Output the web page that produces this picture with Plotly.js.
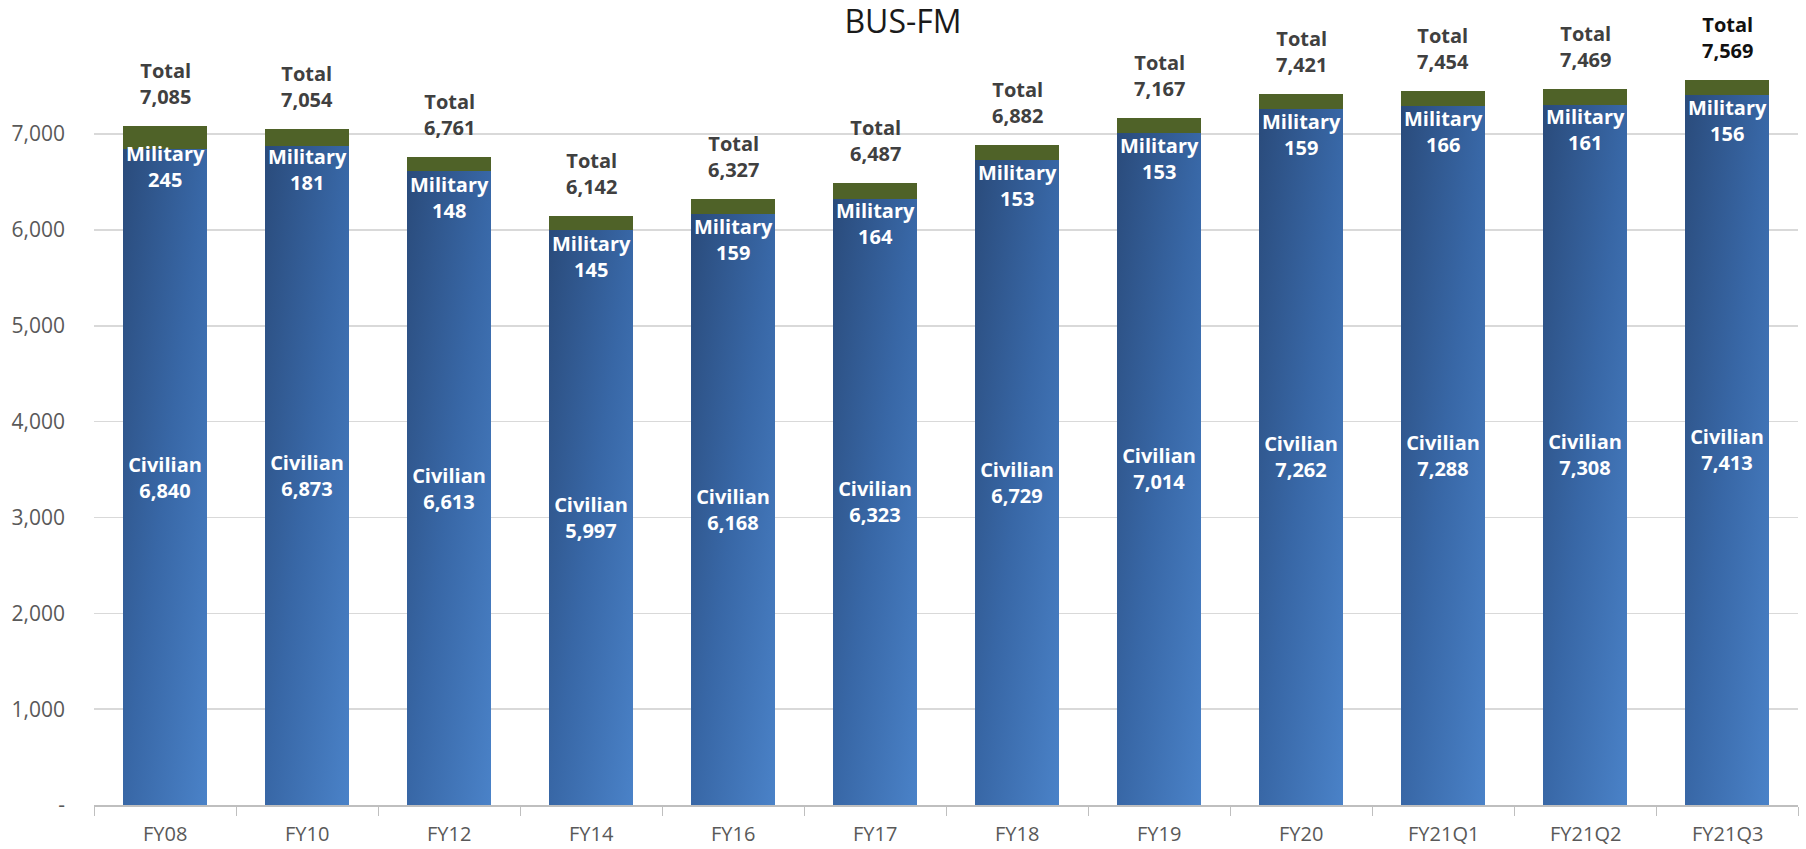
<!DOCTYPE html>
<html>
<head>
<meta charset="utf-8">
<script src="https://cdn.plot.ly/plotly-3.0.1.min.js"></script>
<style>
  html, body { margin: 0; padding: 0; background: #fff; }
</style>
</head>
<body>
<div id="chart" style="width:1806px;height:849px;"></div>
<script>
// headcount by fiscal year, civilian + military
const categories = ["FY08", "FY10", "FY12", "FY14", "FY16", "FY17", "FY18", "FY19", "FY20", "FY21Q1", "FY21Q2", "FY21Q3"];
const civilian = [6840, 6873, 6613, 5997, 6168, 6323, 6729, 7014, 7262, 7288, 7308, 7413];
const military = [245, 181, 148, 145, 159, 164, 153, 153, 159, 166, 161, 156];
const totals = [7085, 7054, 6761, 6142, 6327, 6487, 6882, 7167, 7421, 7454, 7469, 7569];

const yTickVals = [0, 1000, 2000, 3000, 4000, 5000, 6000, 7000];
const yTickText = ["-", "1,000", "2,000", "3,000", "4,000", "5,000", "6,000", "7,000"];

const fmt = v => v.toLocaleString("en-US");
const font = "'Open Sans', 'Liberation Sans', sans-serif";

const data = [
  {
    x: categories,
    y: civilian,
    type: "bar",
    name: "Civilian",
    marker: { color: "#3a68a6" },
    text: civilian.map(v => "Civilian<br>" + fmt(v)),
    textposition: "inside",
    insidetextanchor: "middle",
    constraintext: "none",
    textfont: { family: font, size: 20, color: "#ffffff", weight: "bold" },
    hoverinfo: "skip"
  },
  {
    x: categories,
    y: military,
    type: "bar",
    name: "Military",
    marker: { color: "#4f6228" },
    hoverinfo: "skip"
  }
];

// military labels sit just under the bar top, totals above it
const annotations = [];
categories.forEach((c, i) => {
  annotations.push({
    x: c, y: totals[i], xref: "x", yref: "y",
    text: "Military<br>" + fmt(military[i]),
    showarrow: false, yanchor: "top", yshift: -12,
    font: { family: font, size: 20, color: "#ffffff", weight: "bold" }
  });
  annotations.push({
    x: c, y: totals[i], xref: "x", yref: "y",
    text: "Total<br>" + fmt(totals[i]),
    showarrow: false, yanchor: "bottom", yshift: 14,
    font: { family: font, size: 20, color: i === categories.length - 1 ? "#111111" : "#404040", weight: "bold" }
  });
  // category label a bit further below the axis than plotly puts it
  annotations.push({
    x: c, y: 0, xref: "x", yref: "paper",
    text: c,
    showarrow: false, yanchor: "top", yshift: -14, borderpad: 0,
    font: { family: font, size: 20, color: "#595959" }
  });
});

const layout = {
  width: 1806,
  height: 849,
  barmode: "stack",
  bargap: 0.41,
  showlegend: false,
  paper_bgcolor: "#ffffff",
  plot_bgcolor: "#ffffff",
  margin: { l: 94, r: 8, t: 67, b: 44 },
  title: {
    text: "BUS-FM",
    font: { family: font, size: 32, color: "#1a1a1a" },
    x: 0.5, xref: "container",
    y: 0.974, yref: "container", yanchor: "middle"
  },
  xaxis: {
    type: "category",
    showgrid: false,
    showline: true,
    linecolor: "#bfbfbf",
    linewidth: 1.5,
    ticks: "outside",
    tickson: "boundaries",
    ticklen: 9,
    tickcolor: "#bfbfbf",
    showticklabels: false
  },
  yaxis: {
    range: [0, 7700],
    tickvals: yTickVals,
    ticktext: yTickText,
    showgrid: true,
    gridcolor: "#d9d9d9",
    gridwidth: 1.5,
    zeroline: false,
    showline: false,
    ticks: "",
    ticklabelstandoff: 28,
    tickfont: { family: font, size: 21, color: "#595959" }
  },
  annotations: annotations
};

Plotly.newPlot("chart", data, layout, { staticPlot: true }).then(gd => {
  // shaded blue fill like the original
  const svg = gd.querySelector("svg.main-svg");
  const ns = "http://www.w3.org/2000/svg";
  let defs = svg.querySelector("defs");
  if (!defs) { defs = document.createElementNS(ns, "defs"); svg.insertBefore(defs, svg.firstChild); }
  const grad = document.createElementNS(ns, "linearGradient");
  grad.setAttribute("id", "civGrad");
  grad.setAttribute("x1", "0"); grad.setAttribute("y1", "0");
  grad.setAttribute("x2", "1"); grad.setAttribute("y2", "1");
  [["0", "#2a4b7b"], ["0.5", "#3867a6"], ["1", "#4a82c8"]].forEach(([o, c]) => {
    const s = document.createElementNS(ns, "stop");
    s.setAttribute("offset", o); s.setAttribute("stop-color", c);
    grad.appendChild(s);
  });
  defs.appendChild(grad);
  const civTrace = gd.querySelectorAll(".barlayer .trace")[0];
  civTrace.querySelectorAll(".point path").forEach(p => { p.style.fill = "url(#civGrad)"; });
});
</script>
</body>
</html>
